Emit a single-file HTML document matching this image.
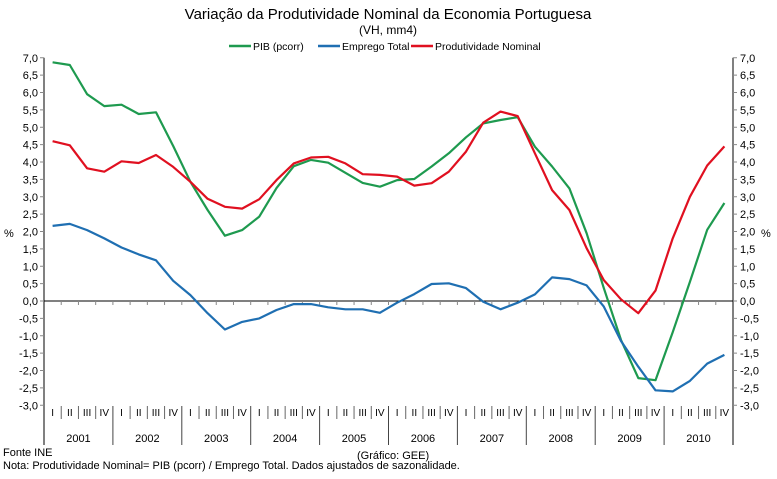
<!DOCTYPE html>
<html><head><meta charset="utf-8"><style>
body{margin:0;background:#fff;}
svg text{font-family:"Liberation Sans",sans-serif;fill:#000;}
</style></head><body>
<svg id="chart" width="777" height="474" viewBox="0 0 777 474" xmlns="http://www.w3.org/2000/svg">
<text x="388" y="19" font-size="15" text-anchor="middle">Variação da Produtividade Nominal da Economia Portuguesa</text>
<text x="388" y="34" font-size="12" text-anchor="middle">(VH, mm4)</text>
<g font-size="10.5">
 <g><line x1="229" y1="46" x2="251" y2="46" stroke="#1e9a4f" stroke-width="2.5"/><text x="253" y="50">PIB (pcorr)</text></g>
 <g><line x1="318" y1="46" x2="340" y2="46" stroke="#1f6fb2" stroke-width="2.5"/><text x="342" y="50">Emprego Total</text></g>
 <g><line x1="411" y1="46" x2="433" y2="46" stroke="#e01020" stroke-width="2.5"/><text x="435" y="50">Produtividade Nominal</text></g>
</g>
<g id="axes"></g>
<g id="series"></g>
<text x="3" y="456" font-size="11">Fonte INE</text>
<text x="357" y="459" font-size="11">(Gráfico: GEE)</text>
<text x="3" y="469" font-size="11">Nota: Produtividade Nominal= PIB (pcorr) / Emprego Total. Dados ajustados de sazonalidade.</text>
</svg>
<script>
const years = ["2001","2002","2003","2004","2005","2006","2007","2008","2009","2010"];
const quarterLabels = ["I","II","III","IV"];
const yTicks = [7,6.5,6,5.5,5,4.5,4,3.5,3,2.5,2,1.5,1,0.5,0,-0.5,-1,-1.5,-2,-2.5,-3];
const pib = [6.87,6.79,5.95,5.61,5.65,5.38,5.43,4.46,3.43,2.62,1.88,2.04,2.43,3.25,3.88,4.06,3.98,3.69,3.4,3.29,3.48,3.51,3.87,4.25,4.71,5.11,5.21,5.29,4.44,3.87,3.24,1.95,0.37,-1.12,-2.22,-2.28,-0.9,0.55,2.05,2.82];
const emprego = [2.16,2.22,2.04,1.8,1.54,1.34,1.17,0.58,0.17,-0.35,-0.82,-0.6,-0.5,-0.26,-0.09,-0.09,-0.18,-0.24,-0.24,-0.34,-0.05,0.2,0.49,0.51,0.37,-0.02,-0.24,-0.05,0.19,0.68,0.63,0.45,-0.16,-1.15,-1.89,-2.57,-2.6,-2.3,-1.8,-1.55];
const produtividade = [4.6,4.48,3.82,3.72,4.02,3.97,4.2,3.86,3.43,2.94,2.71,2.66,2.93,3.48,3.96,4.13,4.15,3.96,3.65,3.63,3.58,3.32,3.39,3.72,4.3,5.13,5.45,5.32,4.25,3.19,2.62,1.52,0.6,0.05,-0.35,0.3,1.8,3.0,3.9,4.45];

const NS="http://www.w3.org/2000/svg";
const X0=44,X1=733,Y0=301,K=34.75,YB=406;
const nQ=years.length*4, qw=(X1-X0)/nQ;
const xS=i=>X0+qw*(i+0.5);
const yS=v=>Y0-v*K;
function mk(tag,attrs,parent){const e=document.createElementNS(NS,tag);for(const k in attrs)e.setAttribute(k,attrs[k]);parent.appendChild(e);return e;}
const ax=document.getElementById('axes');
mk('line',{x1:X0,y1:yS(7),x2:X0,y2:445,stroke:'#000','stroke-width':1},ax);
mk('line',{x1:X1,y1:yS(7),x2:X1,y2:445,stroke:'#000','stroke-width':1},ax);
yTicks.forEach(v=>{
 const y=yS(v);
 const t1=mk('line',{x1:X0-4,y1:y,x2:X0,y2:y,stroke:'#888'},ax);
 
 
 const t2=mk('line',{x1:X1,y1:y,x2:X1+4,y2:y,stroke:'#888'},ax);
 
 
 const s=v.toFixed(1).replace('.',',');
 const l=mk('text',{x:X0-6,y:y+4,'font-size':11,'text-anchor':'end'},ax);l.textContent=s;
 
 
 const r=mk('text',{x:X1+7,y:y+4,'font-size':11},ax);r.textContent=s;
 
 
});
const pl=mk('text',{x:4,y:237,'font-size':11},ax);pl.textContent='%';


const pr=mk('text',{x:761,y:237,'font-size':11},ax);pr.textContent='%';


const zl=mk('line',{x1:X0,y1:Y0,x2:X1,y2:Y0,stroke:'#000','stroke-width':1},ax);


for(let i=1;i<nQ;i++){
 const x=X0+qw*i;
 const zt=mk('line',{x1:x,y1:Y0,x2:x,y2:Y0+4,stroke:'#888'},ax);
 
 
 const sep=mk('line',{x1:x,y1:YB,x2:x,y2:(i%4===0)?445:419,stroke:(i%4===0)?'#444':'#666'},ax);
 
 
}
for(let i=0;i<nQ;i++){
 const t=mk('text',{x:xS(i),y:416,'font-size':10,'text-anchor':'middle'},ax);t.textContent=quarterLabels[i%4];
 
 
}
years.forEach((yr,j)=>{
 const t=mk('text',{x:X0+qw*(4*j+2),y:442,'font-size':11,'text-anchor':'middle'},ax);t.textContent=yr;
 
 
});
const sg=document.getElementById('series');
[[pib,'#1e9a4f','pib-line'],[emprego,'#1f6fb2','emprego-line'],[produtividade,'#e01020','produtividade-line']].forEach(([d,c,n])=>{
 const p=mk('polyline',{points:d.map((v,i)=>xS(i).toFixed(1)+','+yS(v).toFixed(1)).join(' '),fill:'none',stroke:c,'stroke-width':2.2,'stroke-linejoin':'round'},sg);
 
 
});
</script>
</body></html>
